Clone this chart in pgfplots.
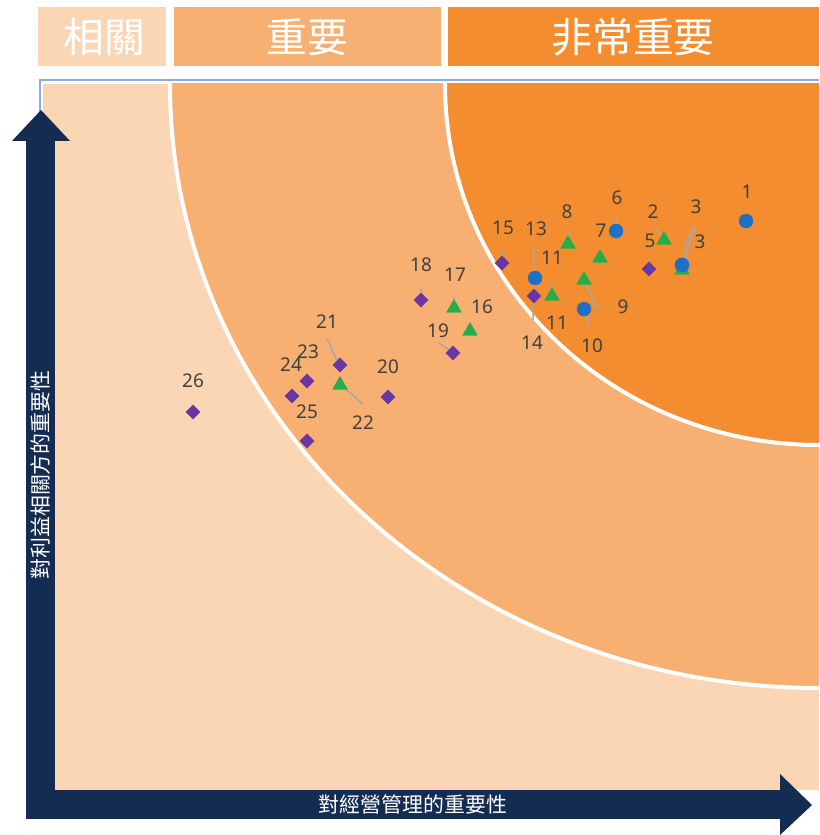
\documentclass[border=0pt]{standalone}
\usepackage{pgfplots}
\pgfplotsset{compat=1.18}
\usepackage{fontspec}
\setmainfont{Noto Sans}
\newfontfamily\cjk{Noto Sans CJK TC}
\definecolor{peach}{HTML}{FBD6B4}
\definecolor{midor}{HTML}{F7B072}
\definecolor{darkor}{HTML}{F48D30}
\definecolor{navy}{HTML}{142C52}
\definecolor{cblue}{HTML}{1F70C4}
\definecolor{cgreen}{HTML}{22AE4A}
\definecolor{cpurple}{HTML}{6A36A2}
\definecolor{labgray}{HTML}{404040}
\definecolor{leader}{HTML}{A8A8A8}
\definecolor{frameblue}{HTML}{8FAADC}

\pgfplotstableread{
x y
746 221
616 231
682 265
535 278
584 309
}\bluepts
\pgfplotstableread{
x y
664 240
568 244
600 258
682 270
584 280
552 296
454 308
470 331
340 385
}\greenpts
\pgfplotstableread{
x y
502 263
649 269
534 296
421 300
453 353
340 365
307 381
292 396
388 397
307 441
193 412
}\purplepts
\pgfplotstableread{
x y lab
747 192 1
617 198 6
653 212 2
696 207 3
650 241 5
700 242 3
567 212 8
601 231 7
503 228 15
536 229 13
552 258 11
623 307 9
557 323 11
532 343 14
592 346 10
421 265 18
455 275 17
482 307 16
438 331 19
327 322 21
308 352 23
291 365 24
388 367 20
193 381 26
307 412 25
363 423 22
}\labels

\begin{document}
\begin{tikzpicture}
\begin{axis}[
  scale only axis, width=819bp, height=835bp,
  xmin=0, xmax=819, ymin=0, ymax=835, y dir=reverse,
  axis lines=none, clip=false,
]
% page background
\fill[white] (axis cs:0,0) rectangle (axis cs:819,835);
% header bands
\fill[peach] (axis cs:38,7) rectangle (axis cs:166,66);
\fill[midor] (axis cs:174,7) rectangle (axis cs:441,66);
\fill[darkor] (axis cs:448,7) rectangle (axis cs:819,66);
\node[text=white, font=\cjk\fontsize{41}{41}\selectfont, inner sep=0pt] at (axis cs:104,37) {相關};
\node[text=white, font=\cjk\fontsize{41}{41}\selectfont, inner sep=0pt] at (axis cs:307,37) {重要};
\node[text=white, font=\cjk\fontsize{41}{41}\selectfont, inner sep=0pt] at (axis cs:633,37) {非常重要};
% frame line
\draw[frameblue, line width=1.5bp] (axis cs:40,112) -- (axis cs:40,80) -- (axis cs:819,80);
% plot background
\fill[peach] (axis cs:43,84) rectangle (axis cs:819,790);
\begin{scope}
\clip (axis cs:43,84) rectangle (axis cs:819,790);
\filldraw[fill=midor, draw=white, line width=4bp] (axis cs:819,84) ellipse [x radius=649bp, y radius=604bp];
\filldraw[fill=darkor, draw=white, line width=4bp] (axis cs:819,84) ellipse [x radius=374bp, y radius=361bp];
\end{scope}
% axis arrows
\fill[navy] (axis cs:26,140) rectangle (axis cs:55,819);
\fill[navy] (axis cs:12,141) -- (axis cs:41,110) -- (axis cs:70,141) -- cycle;
\fill[navy] (axis cs:26,790) rectangle (axis cs:781,819);
\fill[navy] (axis cs:780,774) -- (axis cs:812,805) -- (axis cs:780,835) -- cycle;
\node[text=white, font=\cjk\fontsize{21}{21}\selectfont, inner sep=0pt] at (axis cs:413,804) {對經營管理的重要性};
\node[text=white, rotate=90, font=\cjk\fontsize{21}{21}\selectfont, inner sep=0pt] at (axis cs:41,475) {對利益相關方的重要性};

% data points
\addplot[only marks, mark=*, mark size=7bp, mark options={draw=cblue, fill=cblue}] table[x=x, y=y] {\bluepts};
\addplot[only marks, mark=triangle*, mark size=8.5bp, mark options={draw=cgreen, fill=cgreen}] table[x=x, y=y] {\greenpts};
\addplot[only marks, mark=square*, mark size=5bp, mark options={draw=cpurple, fill=cpurple, rotate=45}] table[x=x, y=y] {\purplepts};
% re-draw blue 3 on top of green 3
\addplot[only marks, mark=*, mark size=7bp, mark options={draw=cblue, fill=cblue}] coordinates {(682,265)};

% leader lines
\addplot[leader, line width=1.5bp, unbounded coords=jump] coordinates {
(617,217) (617,229) (nan,nan)
(653,227) (663,236) (nan,nan)
(696,226) (683,262) (nan,nan)
(696,226) (686,241) (686,263) (nan,nan)
(568,232) (568,241) (nan,nan)
(601,249) (601,256) (nan,nan)
(502,251) (502,260) (nan,nan)
(649,258) (649,266) (nan,nan)
(534,245) (533,320) (nan,nan)
(552,283) (552,294) (nan,nan)
(584,280) (596,306) (601,306) (nan,nan)
(584,312) (590,325) (nan,nan)
(421,288) (421,297) (nan,nan)
(454,297) (454,305) (nan,nan)
(439,343) (452,352) (nan,nan)
(327,338) (338,363) (nan,nan)
(342,386) (363,404)
};

% point labels
\addplot[draw=none, mark=none, nodes near coords, point meta=explicit symbolic,
  every node near coord/.append style={anchor=center, inner sep=0pt, text=labgray, font=\fontsize{19}{19}\selectfont}]
  table[x=x, y=y, meta=lab] {\labels};
\end{axis}
\end{tikzpicture}
\end{document}
